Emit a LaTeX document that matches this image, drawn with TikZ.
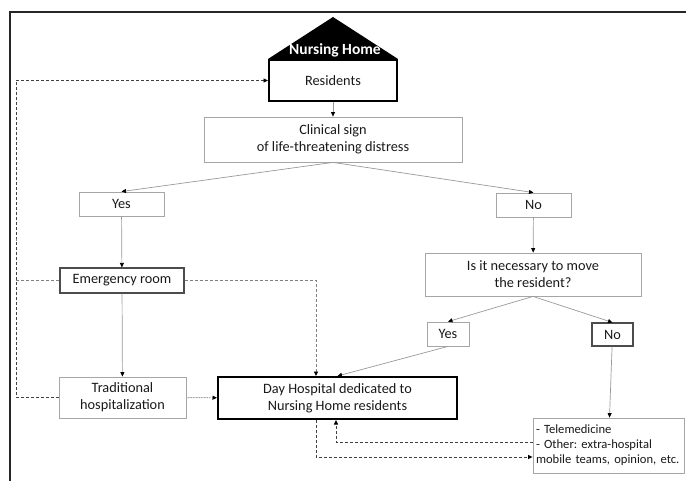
\documentclass[tikz,border=0pt]{standalone}
\usepackage{fontspec}
\setmainfont{Carlito}
\usetikzlibrary{positioning}
\usetikzlibrary{calc}
\usetikzlibrary{arrows.meta}
\frenchspacing

\begin{document}
\begin{tikzpicture}[x=1pt, y=-1pt,
    box/.style={draw=gray!70, line width=0.8pt, align=center, inner sep=0pt, text=black!90, font=\fontsize{14.3}{17}\selectfont},
    midbox/.style={box, draw=black!70, line width=1.1pt},
    thickbox/.style={box, draw=black, line width=2pt},
    arr/.style={draw=gray!80, line width=0.7pt, -{Triangle[length=4.5pt,width=4pt,color=black]}},
    dline/.style={draw=black!75, line width=0.9pt, dash pattern=on 3pt off 2pt},
    darr/.style={dline, -{Triangle[length=4.5pt,width=4pt,color=black]}}]
            \useasboundingbox (0,0) rectangle (686,481);
            \draw[line width=1.5pt, black!85] (686,12) -- (10,12) -- (10,481);

            \node[thickbox, minimum width=128, minimum height=41] (res) at (333,80.5) {Residents};
            \coordinate (apex) at (333,17);
            \fill (res.north west) -- (apex) -- (res.north east) -- cycle;
            \node[text=white, font=\bfseries\fontsize{15.5}{18}\selectfont] (roof) at (335,50) {Nursing Home};

            \node[box, minimum width=258, minimum height=45] (clin) at (333,139.5) {Clinical sign\\of life-threatening distress};
            \node[box, minimum width=85, minimum height=24] (yes1) at (121.5,204) {Yes};
            \node[box, minimum width=75, minimum height=24] (no1) at (533.5,205) {No};
            \node[midbox, minimum width=124, minimum height=25] (er) at (122,280.5) {Emergency room};
            \node[box, minimum width=127, minimum height=41] (trad) at (122.5,397.5) {Traditional\\hospitalization};
            \node[thickbox, minimum width=239, minimum height=42] (day) at (337.5,398) {Day Hospital dedicated to\\Nursing Home residents};
            \node[box, minimum width=216, minimum height=43] (need) at (533,274.5) {Is it necessary to move\\the resident?};
            \node[box, minimum width=42, minimum height=24] (yes2) at (448,334) {Yes};
            \node[midbox, minimum width=41, minimum height=23] (no2) at (612.5,334.5) {No};
            \node[box, text width=145pt, inner xsep=3pt, minimum height=55, align=left, font=\fontsize{12.6}{15}\selectfont] (tele) at (608.5,445.5) {- Telemedicine\\- Other: extra-hospital\\mobile teams, opinion, etc.};
            \coordinate (lft) at (16,240);

            \draw[arr] (res) -- (clin);
            \draw[arr] (clin.south) -- (yes1.north);
            \draw[arr] (clin.south) -- (no1.north);
            \draw[arr] (yes1) -- (er);
            \draw[arr] (er) -- (trad);
            \draw[arr] (no1) -- (need);
            \draw[arr] (need.south) -- (yes2.north);
            \draw[arr] (need.south) -- (no2.north);
            \draw[arr] (yes2.south) -- (day.north);
            \draw[arr] (no2) -- (tele);

            \draw[darr] (trad.west) -| (lft) |- (res.west);
            \draw[dline, draw=gray] (er.west) -- (er.west -| lft);
            \draw[darr, draw=gray] (er.east) -| ([xshift=-21.5pt]day.north);
            \draw[darr, draw=gray!70, dash pattern=on 1pt off 0.6pt] (trad) -- (day);
            \draw[darr] ([yshift=3.5pt]tele.west) -| ([xshift=-1.5pt]day.south);
            \draw[darr] ([xshift=-21.5pt]day.south) |- ([yshift=-11.5pt]tele.west);
\end{tikzpicture}
\end{document}
